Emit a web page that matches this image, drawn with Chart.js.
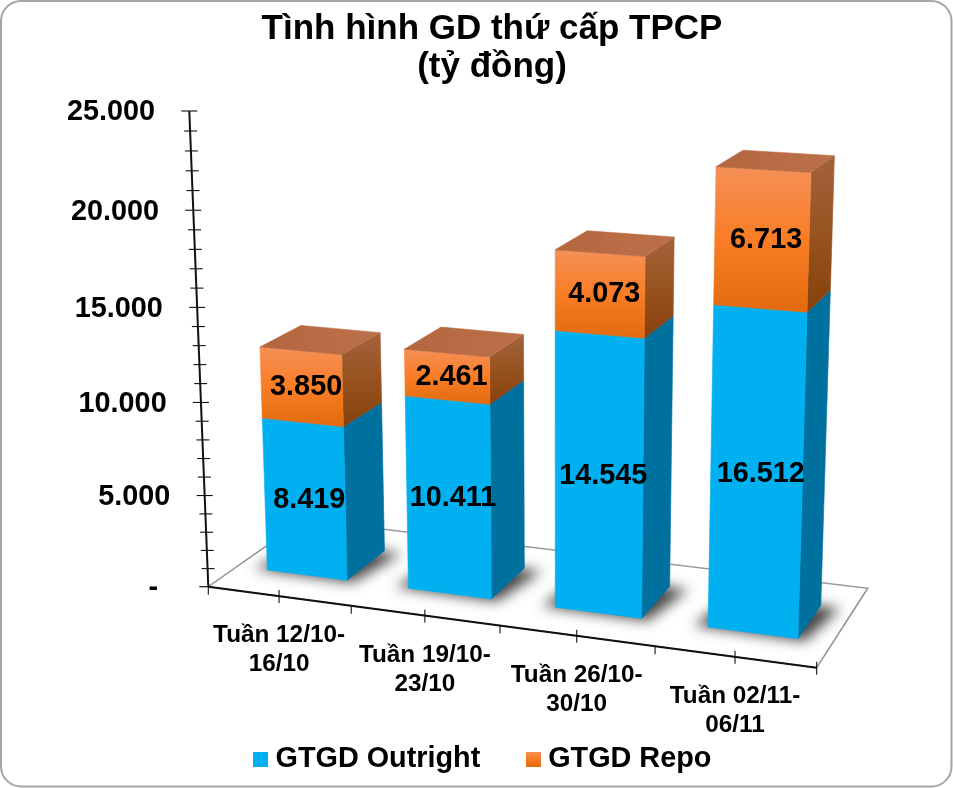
<!DOCTYPE html>
<html lang="vi">
<head>
<meta charset="utf-8">
<style>html,body{margin:0;padding:0;background:#fff}canvas{display:block}</style>
<script src="https://cdn.jsdelivr.net/npm/chart.js@4/dist/chart.umd.min.js"></script>
</head>
<body>
<canvas id="c" width="953" height="788"></canvas>
<script>
const categories = [['Tuần 12/10-','16/10'],['Tuần 19/10-','23/10'],['Tuần 26/10-','30/10'],['Tuần 02/11-','06/11']];
const outrightValues = [8419, 10411, 14545, 16512];
const repoValues = [3850, 2461, 4073, 6713];
const axisMax = 25000, axisStep = 5000, axisMinorStep = 1000;

const FONT = '"Liberation Sans", Arial, sans-serif';
const fmt = v => String(v).replace(/\B(?=(\d{3})+(?!\d))/g, '.');

/* camera: floor corners (front-left, front-right, back-right, back-left), top of the vertical axis */
const cam = (() => {
  const [x0,y0,x1,y1,x2,y2,x3,y3] = [208.3,586.7, 816.7,667.7, 867.7,588.3, 304,519.5];
  const dx1=x1-x2, dx2=x3-x2, sx=x0-x1+x2-x3, dy1=y1-y2, dy2=y3-y2, sy=y0-y1+y2-y3;
  const det=dx1*dy2-dx2*dy1;
  const g=(sx*dy2-dx2*sy)/det, h=(dx1*sy-sx*dy1)/det;
  const a=x1-x0+g*x1, b=x3-x0+h*x3, d=y1-y0+g*y1, e=y3-y0+h*y3;
  const c3=-0.0517, topX=189.3, topY=111;
  return {a,b,c:x0,d,e,f:y0,g,h,c3,a3:topX*(1+c3)-x0,b3:topY*(1+c3)-y0};
})();
function P(s,t,v0){
  const v=v0*(1+0.01*s);
  const w=1+cam.g*s+cam.h*t+cam.c3*v;
  return [(cam.a*s+cam.b*t+cam.a3*v+cam.c)/w,(cam.d*s+cam.e*t+cam.b3*v+cam.f)/w];
}
const T0=0.29, T1=0.715;

function poly(ctx,pts,fill){
  ctx.beginPath();
  pts.forEach((p,i)=>i?ctx.lineTo(p[0],p[1]):ctx.moveTo(p[0],p[1]));
  ctx.closePath();
  ctx.fillStyle=fill; ctx.fill();
  ctx.strokeStyle=fill; ctx.lineWidth=0.6; ctx.stroke();
}
function vgrad(ctx,y0,y1,stops){
  const g=ctx.createLinearGradient(0,y0,0,y1);
  stops.forEach((c,i)=>g.addColorStop(i/(stops.length-1),c));
  return g;
}
function line(ctx,a,b,color,lw){
  ctx.beginPath();ctx.moveTo(a[0],a[1]);ctx.lineTo(b[0],b[1]);
  ctx.strokeStyle=color;ctx.lineWidth=lw;ctx.stroke();
}
function swatch(stops){
  const c=document.createElement('canvas');c.width=15;c.height=15;
  const x=c.getContext('2d');x.fillStyle=vgrad(x,0,15,stops);x.fillRect(0,0,15,15);
  return c;
}
const frontRepo=['#F59058','#F97D25','#E26B0E'];
const sideRepo=['#A2623D','#97531F','#86400C'];
const swatches=[swatch(['#00B0F0','#00B0F0']),swatch(frontRepo)];

const scene={
  id:'scene',
  beforeDraw(chart){
    const ctx=chart.ctx;
    ctx.save();
    ctx.fillStyle='#fff';ctx.fillRect(0,0,chart.width,chart.height);
    ctx.beginPath();ctx.roundRect(1,1,950.5,785.5,20);
    ctx.strokeStyle='#A6A6A6';ctx.lineWidth=2;ctx.stroke();
    ctx.restore();
  },
  afterLayout(chart){
    const tb=chart.titleBlock; tb.left+=15.5; tb.right+=15.5; tb.top+=0.5; tb.bottom+=0.5;
    const lg=chart.legend; lg.left+=9; lg.right+=9;
    const dy=(759-14.4-52)-lg.top; lg.top+=dy; lg.bottom+=dy;
  },
  beforeDatasetsDraw(chart){
    const ctx=chart.ctx, xs=chart.scales.x, ys=chart.scales.y;
    const S=x=>(x-xs.left)/(xs.right-xs.left);
    const H=y=>(ys.bottom-y)/(ys.bottom-ys.top);
    ctx.save();
    /* floor */
    ctx.beginPath();
    [[0,0],[1,0],[1,1],[0,1]].forEach((c,i)=>{const p=P(c[0],c[1],0);i?ctx.lineTo(p[0],p[1]):ctx.moveTo(p[0],p[1]);});
    ctx.closePath();ctx.fillStyle='#fff';ctx.fill();
    ctx.strokeStyle='#979797';ctx.lineWidth=1.6;ctx.stroke();

    /* shadows on the floor: only the blurred shadow of an off-canvas footprint is seen */
    const metas=[chart.getDatasetMeta(0),chart.getDatasetMeta(1)];
    const OFF=3000;
    metas[0].data.forEach(el=>{
      const s0=S(el.x-el.width/2), s1=S(el.x+el.width/2);
      ctx.save();
      ctx.shadowColor='rgba(20,20,20,0.78)';ctx.shadowBlur=13;ctx.shadowOffsetX=OFF;
      const pts=[P(s0-.022,T0-.004,0),P(s1+.012,T0-.018,0),P(s1+.032,T1-.01,0),P(s0,T1,0)];
      ctx.beginPath();
      pts.forEach((p,i)=>i?ctx.lineTo(p[0]-OFF,p[1]):ctx.moveTo(p[0]-OFF,p[1]));
      ctx.closePath();ctx.fillStyle='#000';ctx.fill();
      ctx.restore();
    });

    /* vertical axis */
    line(ctx,P(0,0,0),P(0,0,1),'#111',2);
    for(let v=0;v<=axisMax;v+=axisMinorStep){
      const h=H(ys.getPixelForValue(v)), p=P(0,0,h), major=v%axisStep===0;
      if(v===0){line(ctx,[p[0]-9,p[1]],p,'#111',1.2);continue;}
      line(ctx,[p[0]-(major?8:6),p[1]],[p[0]+(major?8:7),p[1]],'#111',1.1);
    }
    ctx.fillStyle='#000';ctx.font='bold 28.8px '+FONT;ctx.textAlign='right';ctx.textBaseline='middle';
    ys.ticks.forEach(t=>{
      const p=P(0,0,H(ys.getPixelForValue(t.value)));
      ctx.fillText(t.label,p[0]-34.3,p[1]+1.5);
    });

    /* horizontal axis */
    line(ctx,P(0,0,0),P(1,0,0),'#111',2);
    for(let k=0;k<=2*categories.length;k++){
      const p=P(k/(2*categories.length),0,0), cross=k%2===1||k===2*categories.length;
      line(ctx,[p[0],p[1]-(cross?6:0)],[p[0],p[1]+(cross?7:8)],'#111',1.1);
    }
    ctx.font='bold 24.3px '+FONT;ctx.textAlign='center';ctx.fillStyle='#000';
    xs.ticks.forEach((t,i)=>{
      const p=P(S(xs.getPixelForTick(i)),0,0);
      [].concat(t.label).forEach((l,j)=>ctx.fillText(l,p[0],p[1]+39.5+j*29));
    });

    /* bars */
    const frontBlue=['#00B0F0','#00B0F0'], sideBlue=['#00719F','#00719F'];
    const labels=[];
    metas[0].data.forEach((_,i)=>{
      metas.forEach((m,di)=>{
        const el=m.data[i];
        const s0=S(el.x-el.width/2), s1=S(el.x+el.width/2);
        const hb=H(el.base), ht=H(el.y);
        const fl=P(s0,T0,hb),fr=P(s1,T0,hb),tr=P(s1,T0,ht),tl=P(s0,T0,ht);
        const br=P(s1,T1,hb),btr=P(s1,T1,ht),btl=P(s0,T1,ht);
        const fg=di?frontRepo:frontBlue, sg=di?sideRepo:sideBlue;
        poly(ctx,[fr,br,btr,tr],vgrad(ctx,Math.min(btr[1],tr[1]),Math.max(fr[1],br[1]),sg));
        poly(ctx,[fl,fr,tr,tl],vgrad(ctx,Math.min(tl[1],tr[1]),Math.max(fl[1],fr[1]),fg));
        if(di===metas.length-1){
          const g=ctx.createLinearGradient(tl[0],0,btr[0],0);
          g.addColorStop(0,'#B4673F');g.addColorStop(1,'#BC7049');
          poly(ctx,[tl,tr,btr,btl],g);
        }
        const c=P((s0+s1)/2,T0,(hb+ht)/2);
        labels.push([fmt(chart.data.datasets[di].data[i]),c[0]+4.5,c[1]+0.5]);
      });
    });
    ctx.font='bold 28.8px '+FONT;ctx.textAlign='center';ctx.textBaseline='middle';ctx.fillStyle='#000';
    labels.forEach(l=>ctx.fillText(l[0],l[1],l[2]));
    ctx.restore();
    return false;
  }
};

new Chart(document.getElementById('c'),{
  type:'bar',
  data:{labels:categories,datasets:[
    {label:'GTGD Outright',data:outrightValues,backgroundColor:'#00B0F0',stack:'s',barPercentage:0.57,categoryPercentage:1},
    {label:'GTGD Repo',data:repoValues,backgroundColor:'#F97D25',stack:'s',barPercentage:0.57,categoryPercentage:1}
  ]},
  plugins:[scene],
  options:{
    responsive:false,animation:false,
    layout:{padding:{left:10,right:10,top:6,bottom:4}},
    scales:{
      x:{display:false,stacked:true},
      y:{display:false,stacked:true,min:0,max:axisMax,
         ticks:{stepSize:axisStep,callback:v=>v===0?'-  ':fmt(v)}}
    },
    plugins:{
      tooltip:{enabled:false},
      title:{display:true,text:['Tình hình GD thứ cấp TPCP','(tỷ đồng)'],color:'#000',
        font:{family:FONT,weight:'bold',size:35,lineHeight:1.08},padding:{top:4,bottom:10}},
      legend:{display:true,position:'bottom',
        labels:{color:'#000',font:{family:FONT,weight:'bold',size:28.8},usePointStyle:true,boxWidth:1.5,padding:52,
          generateLabels:c=>c.data.datasets.map((d,i)=>({text:d.label,pointStyle:swatches[i],fillStyle:d.backgroundColor,strokeStyle:'transparent',lineWidth:0,datasetIndex:i,hidden:false}))}}
    }
  }
});
</script>
</body>
</html>
